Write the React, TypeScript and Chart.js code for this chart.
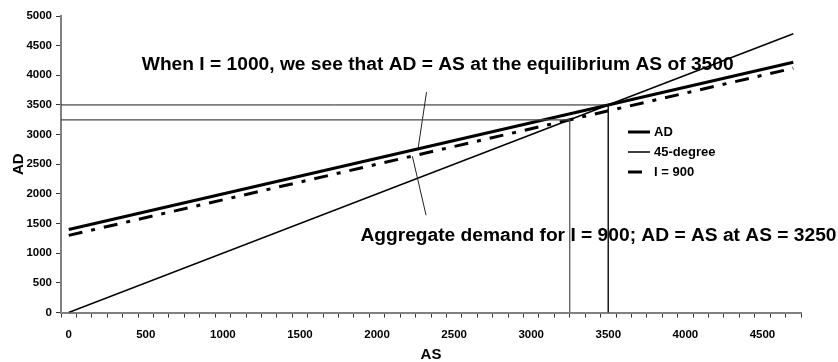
import { useEffect, useRef } from 'react';
import { Chart, registerables } from 'chart.js';

Chart.register(...registerables);

const FONT = '"Liberation Sans", Arial, Helvetica, sans-serif';

// Axis ticks
const xTickLabels = [0, 500, 1000, 1500, 2000, 2500, 3000, 3500, 4000, 4500];
const xTickMarks = Array.from({ length: 49 }, (_, i) => -50 + i * 100);
const yTickLabels = [0, 500, 1000, 1500, 2000, 2500, 3000, 3500, 4000, 4500, 5000];
const xRange = [-50, 4750];
const yRange = [0, 5000];

// Series (AS, AD)
const adPoints = [
  { x: 0, y: 1400 },
  { x: 4700, y: 4220 },
];
const degree45Points = [
  { x: 0, y: 0 },
  { x: 4700, y: 4700 },
];
const i900Points = [
  { x: 0, y: 1300 },
  { x: 4700, y: 4120 },
];

// Equilibrium guides
const equilibrium1000 = [
  { x: -50, y: 3500 },
  { x: 3500, y: 3500 },
  { x: 3500, y: 0 },
];
const equilibrium900 = [
  { x: -50, y: 3250 },
  { x: 3250, y: 3250 },
  { x: 3250, y: 0 },
];

// Callout leaders from the notes to the curves
const leaderTop = [
  { x: 2321, y: 3716 },
  { x: 2266, y: 2760 },
];
const leaderBottom = [
  { x: 2318, y: 1640 },
  { x: 2229, y: 2637 },
];

const noteTexts = [
  'When I = 1000, we see that AD = AS at the equilibrium AS of 3500',
  'Aggregate demand for I = 900; AD = AS at AS = 3250',
];
const noteAnchors = [
  { x: 474, y: 4090 },
  { x: 1892, y: 1203 },
];

const legendLabels = ['AD', '45-degree', 'I = 900'];

const notesPlugin = {
  id: 'notes',
  beforeDatasetsDraw(chart: any) {
    const { ctx } = chart;
    const xs = chart.scales.x;
    const ys = chart.scales.y;
    ctx.save();
    ctx.font = `bold 19.2px ${FONT}`;
    ctx.fillStyle = '#000';
    ctx.textAlign = 'left';
    ctx.textBaseline = 'alphabetic';
    noteTexts.forEach((t, i) => {
      ctx.fillText(t, xs.getPixelForValue(noteAnchors[i].x), ys.getPixelForValue(noteAnchors[i].y));
    });
    ctx.restore();
  },
};

const legendPlugin = {
  id: 'insetLegend',
  afterDatasetsDraw(chart: any, _args: any, opts: any) {
    const { ctx } = chart;
    ctx.save();
    ctx.font = `bold 13px ${FONT}`;
    ctx.fillStyle = '#000';
    ctx.textAlign = 'left';
    ctx.textBaseline = 'middle';
    legendLabels.forEach((label, i) => {
      const ds = chart.data.datasets.find((d: any) => d.label === label);
      if (!ds) return;
      const y = opts.top + i * opts.rowGap;
      ctx.beginPath();
      ctx.strokeStyle = ds.borderColor;
      ctx.lineWidth = ds.borderWidth;
      ctx.setLineDash(ds.borderDash || []);
      ctx.moveTo(opts.left, y);
      ctx.lineTo(opts.left + opts.lineLength, y);
      ctx.stroke();
      ctx.setLineDash([]);
      ctx.fillText(label, opts.left + opts.lineLength + opts.gap, y);
    });
    ctx.restore();
  },
};

export default function App() {
  const canvasRef = useRef<HTMLCanvasElement | null>(null);

  useEffect(() => {
    if (!canvasRef.current) return;
    const line = (data: any[], extra: any) => ({
      data,
      borderColor: '#000',
      borderWidth: 1,
      pointRadius: 0,
      fill: false,
      tension: 0,
      ...extra,
    });

    const chart = new Chart(canvasRef.current, {
      type: 'line',
      data: {
        datasets: [
          line(equilibrium1000, { label: 'eq1000', borderColor: '#1a1a1a', borderWidth: 1 }),
          line(equilibrium900, { label: 'eq900', borderColor: '#4a4a4a', borderWidth: 1.2 }),
          line(leaderTop, { label: 'leaderTop', borderColor: '#222', borderWidth: 1 }),
          line(leaderBottom, { label: 'leaderBottom', borderColor: '#222', borderWidth: 1 }),
          line(degree45Points, { label: '45-degree', borderWidth: 1.5 }),
          line(i900Points, { label: 'I = 900', borderWidth: 3, borderDash: [14, 9, 4, 9] }),
          line(adPoints, { label: 'AD', borderWidth: 3 }),
        ],
      },
      options: {
        animation: false,
        responsive: false,
        devicePixelRatio: 1,
        layout: { padding: { top: 16, right: 37, bottom: 0, left: 0 } },
        plugins: {
          legend: { display: false },
          tooltip: { enabled: false },
          insetLegend: { left: 628, top: 132, rowGap: 20, lineLength: 22, gap: 4 },
        } as any,
        scales: {
          x: {
            type: 'linear',
            position: 'bottom',
            min: xRange[0],
            max: xRange[1],
            weight: 0,
            afterBuildTicks: (s: any) => {
              s.ticks = xTickMarks.map((v) => ({ value: v }));
            },
            afterFit: (s: any) => {
              s.height = 5;
            },
            ticks: { display: false },
            grid: { drawOnChartArea: false, drawTicks: true, tickLength: 5, color: '#333', lineWidth: 1 },
            border: { color: '#808080', width: 2 },
          },
          xLabels: {
            type: 'linear',
            position: 'bottom',
            min: xRange[0],
            max: xRange[1],
            weight: 1,
            afterBuildTicks: (s: any) => {
              s.ticks = xTickLabels.map((v) => ({ value: v }));
            },
            afterFit: (s: any) => {
              s.height = 44.5;
            },
            grid: { display: false, drawTicks: false },
            border: { display: false },
            ticks: {
              padding: 10,
              autoSkip: false,
              maxRotation: 0,
              color: '#000',
              font: { family: FONT, size: 11.5, weight: 'bold' },
              callback: (v: any) => String(v),
            },
            title: {
              display: true,
              text: 'AS',
              color: '#000',
              padding: 0,
              font: { family: FONT, size: 15, weight: 'bold', lineHeight: 1 },
            },
          },
          y: {
            type: 'linear',
            min: yRange[0],
            max: yRange[1],
            afterBuildTicks: (s: any) => {
              s.ticks = yTickLabels.map((v) => ({ value: v }));
            },
            afterFit: (s: any) => {
              s.width = 61;
            },
            ticks: {
              padding: 4,
              color: '#000',
              font: { family: FONT, size: 11.5, weight: 'bold' },
              callback: (v: any) => String(v),
            },
            grid: { drawOnChartArea: false, drawTicks: true, tickLength: 5, color: '#333', lineWidth: 1 },
            border: { color: '#808080', width: 2 },
            title: {
              display: true,
              text: 'AD',
              color: '#000',
              padding: { top: 9.5, bottom: 0 },
              font: { family: FONT, size: 15, weight: 'bold' },
            },
          },
        },
      } as any,
      plugins: [notesPlugin, legendPlugin],
    });
    return () => chart.destroy();
  }, []);

  return (
    <div style={{ position: 'fixed', left: 0, top: 0, width: 838, height: 362, background: '#fff' }}>
      <canvas ref={canvasRef} width={838} height={362} style={{ display: 'block' }} />
    </div>
  );
}
